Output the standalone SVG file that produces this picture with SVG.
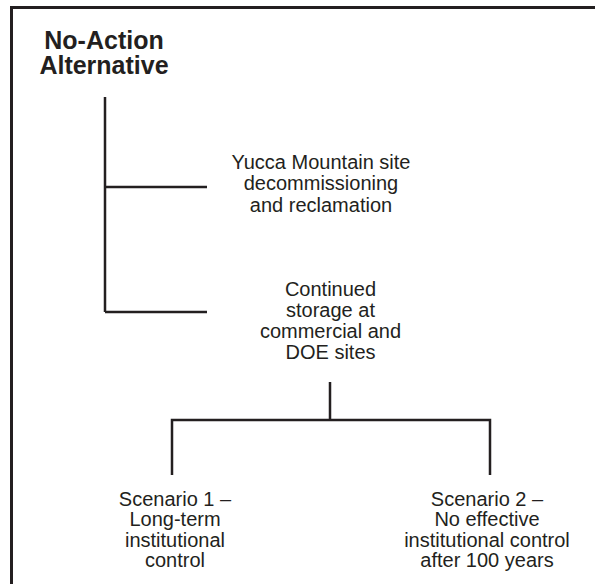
<svg xmlns="http://www.w3.org/2000/svg" width="595" height="584" viewBox="0 0 595 584">
  <style>
    .frame { fill: none; stroke: #231f20; stroke-width: 3; }
    .conn { fill: none; stroke: #231f20; stroke-width: 2.5; stroke-linecap: butt; stroke-linejoin: miter; }
    .title { font-family: "Liberation Sans", Arial, sans-serif; font-weight: bold; font-size: 25px; fill: #231f20; text-anchor: middle; }
    .label { font-family: "Liberation Sans", Arial, sans-serif; font-size: 20px; fill: #231f20; text-anchor: middle; }
  </style>
  <rect width="595" height="584" fill="#ffffff"/>
  <!-- outer frame, open past the right and bottom edges -->
  <rect class="frame" x="11.5" y="7.5" width="600" height="600"/>

  <g id="connectors">
    <!-- trunk from the title with two side branches -->
    <path class="conn" d="M105,97 V312 M105,187 H207 M105,312 H207"/>
    <!-- split under continued storage -->
    <path class="conn" d="M330,382 V420 M172,475 V420 H490 V475"/>
  </g>

  <g id="no-action">
    <text class="title" x="104" y="48.5">No-Action</text>
    <text class="title" x="104" y="74">Alternative</text>
  </g>

  <g id="decommissioning">
    <text class="label" x="321" y="169">Yucca Mountain site</text>
    <text class="label" x="321" y="190">decommissioning</text>
    <text class="label" x="321" y="211.5">and reclamation</text>
  </g>

  <g id="continued-storage">
    <text class="label" x="330.5" y="296">Continued</text>
    <text class="label" x="330.5" y="316.5">storage at</text>
    <text class="label" x="330.5" y="337.5">commercial and</text>
    <text class="label" x="330.5" y="359">DOE sites</text>
  </g>

  <g id="scenario-1">
    <text class="label" x="175" y="505.5">Scenario 1 –</text>
    <text class="label" x="175" y="526">Long-term</text>
    <text class="label" x="175" y="546.5">institutional</text>
    <text class="label" x="175" y="566.5">control</text>
  </g>

  <g id="scenario-2">
    <text class="label" x="487" y="505.5">Scenario 2 –</text>
    <text class="label" x="487" y="526">No effective</text>
    <text class="label" x="487" y="546.5">institutional control</text>
    <text class="label" x="487" y="566.5">after 100 years</text>
  </g>
</svg>
